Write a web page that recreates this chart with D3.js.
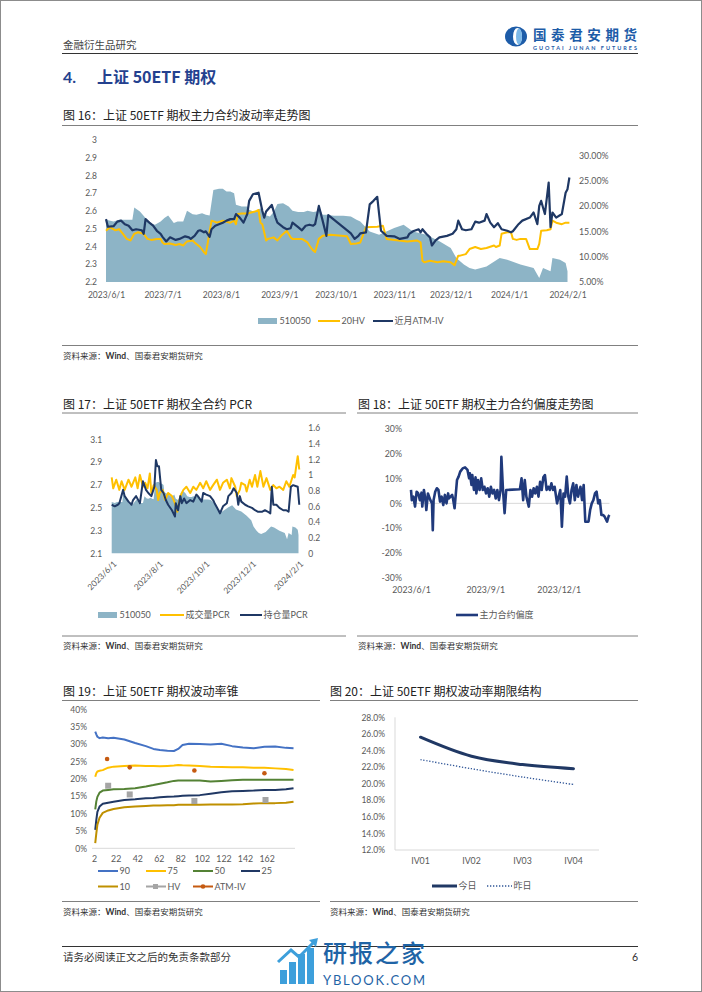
<!DOCTYPE html>
<html><head><meta charset="utf-8">
<script src="https://cdn.jsdelivr.net/npm/d3@7"></script>
<style>body{margin:0;background:#fff}svg{display:block}</style>
</head><body>
<svg id="page" width="702" height="992"></svg>
<script>
// ---------------- DATA ----------------
// 510050 close (left axis, charts 16 & 17)
const etf510050 = [["2023-06-01",2.551],["2023-06-05",2.541],["2023-06-08",2.551],["2023-06-12",2.551],["2023-06-15",2.551],["2023-06-16",2.620],["2023-06-19",2.597],["2023-06-22",2.560],["2023-06-24",2.532],["2023-06-27",2.522],["2023-06-30",2.541],["2023-07-02",2.560],["2023-07-04",2.575],["2023-07-07",2.532],["2023-07-09",2.541],["2023-07-12",2.541],["2023-07-14",2.601],["2023-07-17",2.582],["2023-07-19",2.579],["2023-07-22",2.588],["2023-07-24",2.579],["2023-07-26",2.575],["2023-07-28",2.719],["2023-07-31",2.725],["2023-08-02",2.725],["2023-08-04",2.710],["2023-08-06",2.710],["2023-08-08",2.700],["2023-08-09",2.635],["2023-08-12",2.625],["2023-08-15",2.625],["2023-08-16",2.607],["2023-08-19",2.594],["2023-08-22",2.616],["2023-08-24",2.579],["2023-08-27",2.569],["2023-08-29",2.594],["2023-08-31",2.639],["2023-09-03",2.644],["2023-09-06",2.625],["2023-09-08",2.601],["2023-09-11",2.594],["2023-09-14",2.594],["2023-09-16",2.601],["2023-09-19",2.594],["2023-09-23",2.601],["2023-09-24",2.579],["2023-09-26",2.579],["2023-09-30",2.573],["2023-10-05",2.573],["2023-10-09",2.569],["2023-10-12",2.551],["2023-10-14",2.541],["2023-10-19",2.485],["2023-10-24",2.466],["2023-11-01",2.504],["2023-11-06",2.522],["2023-11-11",2.485],["2023-11-18",2.466],["2023-11-25",2.429],["2023-12-01",2.391],["2023-12-04",2.335],["2023-12-08",2.298],["2023-12-11",2.279],["2023-12-14",2.270],["2023-12-20",2.288],["2023-12-27",2.335],["2023-12-31",2.326],["2024-01-07",2.298],["2024-01-14",2.279],["2024-01-17",2.223],["2024-01-19",2.279],["2024-01-23",2.260],["2024-01-24",2.335],["2024-01-28",2.326],["2024-01-31",2.307],["2024-02-01",2.260]];
// 20HV (%), right axis chart 16
const hv20 = [["2023-06-01",15.1],["2023-06-03",15.8],["2023-06-06",15.2],["2023-06-08",15.4],["2023-06-10",14.5],["2023-06-12",13.5],["2023-06-14",13.2],["2023-06-16",14.5],["2023-06-18",14.8],["2023-06-21",14.5],["2023-06-23",13.5],["2023-06-25",13.3],["2023-06-28",13.5],["2023-06-30",13.5],["2023-07-01",12.8],["2023-07-02",12.5],["2023-07-05",12.6],["2023-07-08",12.3],["2023-07-10",12.5],["2023-07-12",12.2],["2023-07-14",13.0],["2023-07-17",13.2],["2023-07-18",12.8],["2023-07-21",11.9],["2023-07-23",10.9],["2023-07-24",10.5],["2023-07-27",17.1],["2023-07-30",16.7],["2023-08-02",17.1],["2023-08-06",16.7],["2023-08-08",17.1],["2023-08-09",16.4],["2023-08-10",18.4],["2023-08-12",18.5],["2023-08-15",18.5],["2023-08-17",18.7],["2023-08-20",19.0],["2023-08-21",19.2],["2023-08-22",16.7],["2023-08-23",16.4],["2023-08-25",13.2],["2023-08-26",13.5],["2023-08-29",13.8],["2023-08-31",13.2],["2023-09-02",14.1],["2023-09-05",15.1],["2023-09-07",13.8],["2023-09-08",13.5],["2023-09-13",13.5],["2023-09-16",12.8],["2023-09-17",12.2],["2023-09-19",11.2],["2023-09-20",10.9],["2023-09-22",13.5],["2023-09-24",14.1],["2023-09-28",14.3],["2023-10-07",14.0],["2023-10-09",12.5],["2023-10-12",12.6],["2023-10-14",12.8],["2023-10-17",15.8],["2023-10-23",15.9],["2023-10-26",16.1],["2023-10-28",13.5],["2023-11-01",13.3],["2023-11-08",13.0],["2023-11-13",13.2],["2023-11-15",12.8],["2023-11-16",9.2],["2023-11-17",8.9],["2023-11-20",9.2],["2023-11-24",8.9],["2023-11-27",9.1],["2023-12-01",8.9],["2023-12-03",8.3],["2023-12-05",10.2],["2023-12-06",10.2],["2023-12-09",10.5],["2023-12-11",11.5],["2023-12-14",11.9],["2023-12-17",11.5],["2023-12-20",11.7],["2023-12-24",12.2],["2023-12-25",11.9],["2023-12-27",12.2],["2023-12-28",14.5],["2023-12-31",14.8],["2024-01-02",14.8],["2024-01-03",13.5],["2024-01-05",13.3],["2024-01-07",13.5],["2024-01-10",13.5],["2024-01-12",11.5],["2024-01-16",11.5],["2024-01-17",12.5],["2024-01-18",15.1],["2024-01-21",15.2],["2024-01-23",15.4],["2024-01-24",17.1],["2024-01-26",16.7],["2024-01-29",16.4],["2024-01-31",16.7],["2024-02-02",16.7]];
// near-month ATM IV (%), right axis chart 16
const atmIV = [["2023-06-01",17.4],["2023-06-02",15.9],["2023-06-05",16.0],["2023-06-07",16.9],["2023-06-09",17.1],["2023-06-11",16.4],["2023-06-13",16.1],["2023-06-15",15.2],["2023-06-17",15.4],["2023-06-20",15.2],["2023-06-21",14.5],["2023-06-22",17.4],["2023-06-24",16.7],["2023-06-26",16.1],["2023-06-28",15.1],["2023-06-30",14.5],["2023-07-01",13.9],["2023-07-03",13.0],["2023-07-05",13.8],["2023-07-08",13.3],["2023-07-10",13.5],["2023-07-13",14.0],["2023-07-15",13.8],["2023-07-16",13.5],["2023-07-18",14.1],["2023-07-20",15.1],["2023-07-21",15.2],["2023-07-23",14.8],["2023-07-24",15.0],["2023-07-26",13.9],["2023-07-27",15.4],["2023-07-29",16.1],["2023-07-31",16.4],["2023-08-02",16.7],["2023-08-04",17.1],["2023-08-06",17.4],["2023-08-08",17.4],["2023-08-09",18.4],["2023-08-11",17.7],["2023-08-13",16.7],["2023-08-15",18.4],["2023-08-16",21.0],["2023-08-18",22.3],["2023-08-21",22.6],["2023-08-23",19.0],["2023-08-24",17.7],["2023-08-25",18.9],["2023-08-28",20.2],["2023-08-30",17.7],["2023-08-31",16.7],["2023-09-03",15.8],["2023-09-05",15.4],["2023-09-07",15.6],["2023-09-08",16.7],["2023-09-11",15.8],["2023-09-13",15.2],["2023-09-15",16.1],["2023-09-17",16.3],["2023-09-19",16.1],["2023-09-20",16.4],["2023-09-22",20.0],["2023-09-24",17.1],["2023-09-26",14.1],["2023-09-27",18.2],["2023-09-28",17.9],["2023-10-09",14.6],["2023-10-11",13.5],["2023-10-13",14.1],["2023-10-14",14.6],["2023-10-17",14.8],["2023-10-19",20.3],["2023-10-21",21.0],["2023-10-23",21.8],["2023-10-24",18.4],["2023-10-25",15.1],["2023-10-28",14.1],["2023-11-01",14.0],["2023-11-04",13.5],["2023-11-08",13.8],["2023-11-09",14.5],["2023-11-11",15.0],["2023-11-14",15.4],["2023-11-15",14.8],["2023-11-16",15.4],["2023-11-18",14.5],["2023-11-20",13.8],["2023-11-21",12.2],["2023-11-23",13.2],["2023-11-25",13.8],["2023-11-29",14.1],["2023-12-02",14.5],["2023-12-04",15.4],["2023-12-05",17.1],["2023-12-07",15.4],["2023-12-09",15.2],["2023-12-12",15.4],["2023-12-14",16.9],["2023-12-16",16.7],["2023-12-19",17.1],["2023-12-20",18.4],["2023-12-22",16.7],["2023-12-24",15.8],["2023-12-26",16.6],["2023-12-28",15.4],["2023-12-31",15.1],["2024-01-02",14.8],["2024-01-03",15.0],["2024-01-06",16.4],["2024-01-08",17.1],["2024-01-12",17.7],["2024-01-14",18.7],["2024-01-16",16.4],["2024-01-17",20.0],["2024-01-18",21.0],["2024-01-19",19.7],["2024-01-20",18.4],["2024-01-22",24.6],["2024-01-23",15.8],["2024-01-24",18.7],["2024-01-26",17.7],["2024-01-29",18.4],["2024-01-31",22.6],["2024-02-01",23.3],["2024-02-02",25.6]];
// chart 17: volume PCR & open-interest PCR (right axis)
const volPCR = [["2023-06-01",0.97],["2023-06-03",0.83],["2023-06-07",0.94],["2023-06-11",0.81],["2023-06-14",0.92],["2023-06-18",0.81],["2023-06-23",0.94],["2023-06-27",0.85],["2023-07-02",0.97],["2023-07-05",0.83],["2023-07-08",1.00],["2023-07-12",0.85],["2023-07-15",0.90],["2023-07-18",0.83],["2023-07-21",1.02],["2023-07-23",0.77],["2023-07-26",0.87],["2023-07-30",0.81],["2023-08-01",0.68],["2023-08-03",0.77],["2023-08-07",0.81],["2023-08-10",0.68],["2023-08-14",0.77],["2023-08-19",0.73],["2023-08-23",0.64],["2023-08-26",0.53],["2023-08-30",0.73],["2023-09-03",0.81],["2023-09-07",0.85],["2023-09-12",0.77],["2023-09-16",0.85],["2023-09-20",0.81],["2023-09-25",0.90],["2023-09-29",0.83],["2023-10-03",0.92],["2023-10-08",0.81],["2023-10-12",0.87],["2023-10-17",0.94],["2023-10-21",0.81],["2023-10-25",0.90],["2023-10-30",0.94],["2023-11-03",0.83],["2023-11-05",0.96],["2023-11-10",0.85],["2023-11-12",0.73],["2023-11-16",0.81],["2023-11-18",0.90],["2023-11-23",0.87],["2023-11-25",0.79],["2023-11-29",0.94],["2023-12-02",0.85],["2023-12-06",1.00],["2023-12-09",0.85],["2023-12-13",1.05],["2023-12-17",0.85],["2023-12-21",0.96],["2023-12-26",0.81],["2023-12-30",0.87],["2024-01-03",0.83],["2024-01-07",0.85],["2024-01-12",0.81],["2024-01-16",0.92],["2024-01-20",0.85],["2024-01-25",1.00],["2024-01-27",0.97],["2024-01-29",1.11],["2024-01-31",1.24],["2024-02-02",1.07]];
const oiPCR = [["2023-06-01",0.62],["2023-06-05",0.60],["2023-06-09",0.62],["2023-06-11",0.64],["2023-06-16",0.81],["2023-06-18",0.73],["2023-06-23",0.66],["2023-06-27",0.62],["2023-06-29",0.68],["2023-07-03",0.73],["2023-07-08",0.64],["2023-07-12",0.92],["2023-07-16",0.81],["2023-07-19",0.77],["2023-07-23",0.73],["2023-07-27",0.85],["2023-07-29",1.19],["2023-07-31",1.11],["2023-08-02",1.11],["2023-08-05",0.81],["2023-08-08",0.77],["2023-08-11",0.68],["2023-08-14",0.62],["2023-08-19",0.55],["2023-08-23",0.47],["2023-08-24",0.64],["2023-08-27",0.55],["2023-08-30",0.73],["2023-09-01",0.64],["2023-09-04",0.70],["2023-09-07",0.64],["2023-09-12",0.68],["2023-09-16",0.66],["2023-09-20",0.75],["2023-09-22",0.73],["2023-09-27",0.66],["2023-09-29",0.77],["2023-10-03",0.75],["2023-10-08",0.73],["2023-10-12",0.68],["2023-10-14",0.64],["2023-10-19",0.55],["2023-10-21",0.51],["2023-10-25",0.60],["2023-10-30",0.64],["2023-11-01",0.73],["2023-11-05",0.77],["2023-11-08",0.83],["2023-11-12",0.77],["2023-11-14",0.62],["2023-11-16",0.73],["2023-11-18",0.66],["2023-11-23",0.62],["2023-11-27",0.60],["2023-12-02",0.58],["2023-12-06",0.55],["2023-12-10",0.53],["2023-12-15",0.53],["2023-12-19",0.55],["2023-12-23",0.53],["2023-12-26",0.51],["2023-12-28",0.85],["2023-12-30",0.62],["2024-01-03",0.62],["2024-01-07",0.58],["2024-01-12",0.55],["2024-01-16",0.55],["2024-01-19",0.53],["2024-01-22",0.85],["2024-01-25",0.87],["2024-01-28",0.86],["2024-01-31",0.85],["2024-02-02",0.62]];
// chart 18: main-contract skew (%)
const skew = [["2023-06-01",5.4],["2023-06-02",1.3],["2023-06-04",2.7],["2023-06-06",-1.3],["2023-06-08",4.7],["2023-06-10",4.0],["2023-06-12",1.3],["2023-06-14",4.3],["2023-06-15",-1.3],["2023-06-17",5.4],["2023-06-19",1.3],["2023-06-20",-2.7],["2023-06-22",4.0],["2023-06-25",1.3],["2023-06-27",0.0],["2023-06-28",-10.8],["2023-06-29",1.3],["2023-07-01",4.7],["2023-07-03",6.1],["2023-07-05",5.4],["2023-07-07",0.7],["2023-07-09",2.7],["2023-07-11",-0.7],["2023-07-13",3.4],["2023-07-15",0.0],["2023-07-17",4.0],["2023-07-18",2.0],["2023-07-20",2.7],["2023-07-22",3.4],["2023-07-23",2.0],["2023-07-25",-2.0],["2023-07-28",9.4],["2023-07-30",10.8],["2023-08-01",12.8],["2023-08-04",14.1],["2023-08-07",14.5],["2023-08-10",13.5],["2023-08-12",10.1],["2023-08-13",12.1],["2023-08-15",7.4],["2023-08-16",11.4],["2023-08-18",5.4],["2023-08-20",10.5],["2023-08-21",4.0],["2023-08-23",9.4],["2023-08-25",5.4],["2023-08-27",10.1],["2023-08-29",5.4],["2023-08-31",6.7],["2023-09-02",4.0],["2023-09-04",6.1],["2023-09-06",2.7],["2023-09-08",6.7],["2023-09-10",4.0],["2023-09-12",5.4],["2023-09-14",2.0],["2023-09-16",5.4],["2023-09-18",1.3],["2023-09-20",5.4],["2023-09-21",18.8],["2023-09-23",5.4],["2023-09-25",-4.0],["2023-09-27",5.4],["2023-10-14",5.7],["2023-10-16",10.1],["2023-10-18",1.3],["2023-10-20",9.4],["2023-10-22",2.7],["2023-10-25",-1.3],["2023-10-27",5.4],["2023-10-29",2.7],["2023-10-31",6.1],["2023-11-02",4.0],["2023-11-04",6.7],["2023-11-06",2.7],["2023-11-08",8.7],["2023-11-10",5.4],["2023-11-12",10.5],["2023-11-14",11.4],["2023-11-16",5.4],["2023-11-18",6.7],["2023-11-20",5.4],["2023-11-22",8.1],["2023-11-24",5.4],["2023-11-26",6.7],["2023-11-29",0.0],["2023-12-01",2.7],["2023-12-03",5.4],["2023-12-05",-9.4],["2023-12-07",4.0],["2023-12-09",2.7],["2023-12-11",10.8],["2023-12-13",2.7],["2023-12-15",0.0],["2023-12-17",5.4],["2023-12-19",8.1],["2023-12-21",1.3],["2023-12-23",7.4],["2023-12-25",2.7],["2023-12-28",6.7],["2023-12-30",1.3],["2024-01-01",7.4],["2024-01-03",-7.4],["2024-01-06",-7.4],["2024-01-07",-7.4],["2024-01-09",-2.7],["2024-01-11",0.0],["2024-01-13",1.3],["2024-01-15",4.0],["2024-01-17",4.7],["2024-01-19",0.0],["2024-01-21",1.3],["2024-01-23",-4.7],["2024-01-25",-4.7],["2024-01-27",-5.4],["2024-01-30",-7.4],["2024-02-01",-5.1],["2024-02-02",-4.7]];
// chart 19: volatility cone (%)
const coneDays = [3,4,5,7,10,15,20,30,40,50,57,63,70,76,80,84,90,100,110,120,130,140,150,160,170,180,187];
const cone90 = [33.6,32.8,32.1,31.7,31.9,31.7,31.8,31.3,30.3,29.4,28.6,28.3,28.1,28.0,28.6,29.7,30.1,30.0,29.9,30.1,29.4,29.0,28.8,29.2,29.3,28.9,28.8];
const cone75 = [20.6,21.6,22.1,22.3,22.5,23.2,23.5,23.7,23.8,23.7,23.7,23.6,23.7,23.8,24.0,23.9,23.8,23.7,23.5,23.4,23.3,23.3,23.2,23.2,23.0,22.8,22.5];
const cone50 = [11.2,13.5,14.8,16.0,16.6,16.8,17.0,17.1,17.3,17.8,18.2,18.6,19.0,19.4,19.5,19.5,19.5,19.5,19.2,19.4,19.6,19.7,19.7,19.7,19.7,19.7,19.7];
const cone25 = [5.3,8.2,10.5,12.0,12.8,13.1,13.4,13.9,14.1,14.4,14.5,14.7,14.8,14.9,15.0,15.1,15.2,15.3,15.7,16.1,16.4,16.5,16.6,16.8,16.8,17.0,17.3];
const cone10 = [1.5,4.3,6.8,8.8,10.2,10.9,11.3,11.8,12.0,12.2,12.3,12.3,12.4,12.4,12.5,12.5,12.5,12.5,12.6,12.6,12.6,12.7,12.9,13.0,13.0,13.1,13.4];
const hvDays = [15,35,95,161];
const hvVals = [18.0,15.5,13.6,13.9];
const atmDays = [14,35,95,160];
const atmVals = [25.7,23.3,22.4,21.6];
// chart 20: term structure (%)
const terms = ["IV01","IV02","IV03","IV04"];
const todayIV = [25.6,23.3,22.3,21.8];
const yesterdayIV = [22.9,21.8,20.8,19.9];
// tick labels
const ticks16L = [2.2,2.3,2.4,2.5,2.6,2.7,2.8,2.9,3];
const ticks16R = [5,10,15,20,25,30];
const ticks16X = ["2023-06-01","2023-07-01","2023-08-01","2023-09-01","2023-10-01","2023-11-01","2023-12-01","2024-01-01","2024-02-01"];
const ticks17L = [2.1,2.3,2.5,2.7,2.9,3.1];
const ticks17R = [0,0.2,0.4,0.6,0.8,1,1.2,1.4,1.6];
const ticks17X = ["2023-06-01","2023-08-01","2023-10-01","2023-12-01","2024-02-01"];
const ticks18Y = [-30,-20,-10,0,10,20,30];
const ticks18X = ["2023-06-01","2023-09-01","2023-12-01"];
const ticks19X = [2,22,42,62,82,102,122,142,162];
const ticks19Y = [0,5,10,15,20,25,30,35,40];
const ticks20Y = [12,14,16,18,20,22,24,26,28];

// ---------------- DRAWING ----------------
const svg = d3.select("#page");
const NUM = "Lato, 'Noto Sans CJK SC', sans-serif";
const CJK = "'Noto Sans CJK SC', 'Noto Sans', sans-serif";
const AX = "#595959";
const AREA = "#8DB4C6", NAVY = "#1F3864", YEL = "#FFC000";
const parse = d3.timeParse("%Y-%m-%d");
const dfmt = d3.timeFormat("%Y/%-m/%-d");

svg.append("rect").attr("x",0.5).attr("y",0.5).attr("width",701).attr("height",991).attr("fill","#fff").attr("stroke","#8c8c8c");

function txt(x,y,s,o={}){
  return svg.append("text").attr("x",x).attr("y",y).text(s)
    .attr("font-family",o.ff||CJK).attr("font-size",o.fs||10).attr("fill",o.fill||"#333")
    .attr("text-anchor",o.anchor||"start").attr("font-weight",o.fw||400);
}
function hline(x1,x2,y,stroke,w){
  svg.append("line").attr("x1",x1).attr("x2",x2).attr("y1",y).attr("y2",y).attr("stroke",stroke).attr("stroke-width",w);
}
function axisText(g,fs){
  g.select(".domain").remove(); g.selectAll(".tick line").remove();
  g.selectAll("text").attr("font-family",NUM).attr("font-size",fs).attr("fill",AX);
}
function legLine(x1,x2,y,color,w,label,dash){
  const l=svg.append("line").attr("x1",x1).attr("x2",x2).attr("y1",y).attr("y2",y).attr("stroke",color).attr("stroke-width",w);
  if(dash) l.attr("stroke-dasharray",dash);
  txt(x2+1.5,y+3.2,label,{ff:NUM,fs:9,fill:AX});
}
function legArea(x,y,label){
  svg.append("rect").attr("x",x).attr("y",y-3).attr("width",19).attr("height",6).attr("fill",AREA);
  txt(x+21.5,y+3.2,label,{ff:NUM,fs:9,fill:AX});
}
function source(x,y){
  const t=svg.append("text").attr("x",x).attr("y",y).attr("font-family",CJK).attr("font-size",8.5).attr("fill","#333");
  t.append("tspan").text("资料来源：");
  t.append("tspan").text("Wind").attr("font-weight",700).attr("font-family",NUM);
  t.append("tspan").text("、国泰君安期货研究");
}

// header
txt(63,49,"金融衍生品研究",{fs:10.5,fill:"#444"});
{
  const cx=516, cy=36.5;
  svg.append("ellipse").attr("cx",cx).attr("cy",cy).attr("rx",11).attr("ry",10).attr("fill","#1D5CA8");
  svg.append("ellipse").attr("cx",cx+1.5).attr("cy",cy).attr("rx",4.5).attr("ry",8.5).attr("fill","#fff");
  svg.append("ellipse").attr("cx",cx+3).attr("cy",cy).attr("rx",3).attr("ry",8).attr("fill","#7DB9E8");
}
txt(533,40,"国泰君安期货",{fs:13.5,fill:"#1D5CA8",fw:700}).attr("textLength",104);
txt(533,50,"GUOTAI JUNAN FUTURES",{ff:NUM,fs:5.5,fill:"#1D5CA8",fw:700}).attr("textLength",104);
hline(62,638,53.5,"#333",1.2);

// section title
txt(63,83,"4.",{ff:NUM,fs:16,fw:700,fill:"#24418F"});
txt(97,83,"上证 50ETF 期权",{fs:16,fw:700,fill:"#24418F"});

// ===== Figure 16 =====
txt(63,120,"图 16：上证 50ETF 期权主力合约波动率走势图",{fs:12,fill:"#222"});
hline(62,638,125.5,"#808080",1);
{
  const x=d3.scaleTime().domain([parse("2023-06-01"),parse("2024-02-01")]).range([106,567.5]);
  const yL=d3.scaleLinear().domain([2.2,3.0]).range([282,140]);
  const yR=d3.scaleLinear().domain([5,33]).range([282,140]);
  svg.append("path").datum(etf510050).attr("fill",AREA)
    .attr("d",d3.area().x(d=>x(parse(d[0]))).y0(yL(2.2)).y1(d=>yL(d[1])));
  svg.append("path").datum(hv20).attr("fill","none").attr("stroke",YEL).attr("stroke-width",2).attr("stroke-linejoin","round")
    .attr("d",d3.line().x(d=>x(parse(d[0]))).y(d=>yR(d[1])));
  svg.append("path").datum(atmIV).attr("fill","none").attr("stroke",NAVY).attr("stroke-width",2.2).attr("stroke-linejoin","round")
    .attr("d",d3.line().x(d=>x(parse(d[0]))).y(d=>yR(d[1])));
  svg.append("g").attr("transform","translate(106,0)")
    .call(d3.axisLeft(yL).tickValues(ticks16L).tickSize(0).tickPadding(9).tickFormat(d=>String(d))).call(g=>axisText(g,8.5));
  svg.append("g").attr("transform","translate(568,0)")
    .call(d3.axisRight(yR).tickValues(ticks16R).tickSize(0).tickPadding(11).tickFormat(d=>d.toFixed(2)+"%")).call(g=>axisText(g,8.8));
  svg.append("g").attr("transform","translate(0,282)")
    .call(d3.axisBottom(x).tickValues(ticks16X.map(parse)).tickSize(0).tickPadding(10).tickFormat(dfmt)).call(g=>axisText(g,8.5));
  legArea(258,321,"510050");
  legLine(318,340,321,YEL,2,"20HV");
  legLine(373,393,321,NAVY,2,"近月ATM-IV");
}
hline(62,638,345.5,"#808080",1);
source(63,359);

// ===== Figure 17 =====
txt(63,409,"图 17：上证 50ETF 期权全合约 PCR",{fs:12,fill:"#222"});
hline(62,346,413,"#808080",1);
{
  const x=d3.scaleTime().domain([parse("2023-06-01"),parse("2024-02-01")]).range([111.7,298.5]);
  const yL=d3.scaleLinear().domain([2.1,3.2]).range([553.3,428]);
  const yR=d3.scaleLinear().domain([0,1.6]).range([553.3,428]);
  svg.append("path").datum(etf510050).attr("fill",AREA)
    .attr("d",d3.area().x(d=>x(parse(d[0]))).y0(yL(2.1)).y1(d=>yL(d[1])));
  svg.append("path").datum(volPCR).attr("fill","none").attr("stroke",YEL).attr("stroke-width",2).attr("stroke-linejoin","round")
    .attr("d",d3.line().x(d=>x(parse(d[0]))).y(d=>yR(d[1])));
  svg.append("path").datum(oiPCR).attr("fill","none").attr("stroke",NAVY).attr("stroke-width",2).attr("stroke-linejoin","round")
    .attr("d",d3.line().x(d=>x(parse(d[0]))).y(d=>yR(d[1])));
  svg.append("g").attr("transform","translate(111.7,0)")
    .call(d3.axisLeft(yL).tickValues(ticks17L).tickSize(0).tickPadding(9.5).tickFormat(d=>d.toFixed(1))).call(g=>axisText(g,8.5));
  svg.append("g").attr("transform","translate(299.3,0)")
    .call(d3.axisRight(yR).tickValues(ticks17R).tickSize(0).tickPadding(9).tickFormat(d=>String(d))).call(g=>axisText(g,8.5));
  const gx=svg.append("g").attr("transform","translate(0,553.3)")
    .call(d3.axisBottom(x).tickValues(ticks17X.map(parse)).tickSize(0).tickPadding(0).tickFormat(dfmt)).call(g=>axisText(g,8.5));
  gx.selectAll("text").attr("y",0).attr("dy","0.35em").attr("transform","translate(3,9) rotate(-45)").attr("text-anchor","end");
  legArea(98,615,"510050");
  legLine(160,184,615,YEL,2,"成交量PCR");
  legLine(240,262,615,NAVY,2,"持仓量PCR");
}

// ===== Figure 18 =====
txt(358,409,"图 18：上证 50ETF 期权主力合约偏度走势图",{fs:12,fill:"#222"});
hline(357,638,413,"#808080",1);
{
  const x=d3.scaleTime().domain([parse("2023-06-01"),parse("2024-02-02")]).range([411,609.5]);
  const y=d3.scaleLinear().domain([-30,30]).range([577.7,429]);
  svg.append("line").attr("x1",411).attr("x2",609.5).attr("y1",y(0)).attr("y2",y(0)).attr("stroke","#D9D9D9").attr("stroke-width",1);
  svg.append("path").datum(skew).attr("fill","none").attr("stroke","#203A7C").attr("stroke-width",2.6).attr("stroke-linejoin","round")
    .attr("d",d3.line().x(d=>x(parse(d[0]))).y(d=>y(d[1])));
  svg.append("g").attr("transform","translate(411,0)")
    .call(d3.axisLeft(y).tickValues(ticks18Y).tickSize(0).tickPadding(9).tickFormat(d=>d+"%")).call(g=>axisText(g,8.8));
  svg.append("g").attr("transform","translate(0,577.7)")
    .call(d3.axisBottom(x).tickValues(ticks18X.map(parse)).tickSize(0).tickPadding(9).tickFormat(dfmt)).call(g=>axisText(g,8.8));
  legLine(456,478,615,"#203A7C",2.6,"主力合约偏度");
}
hline(62,346,636,"#808080",1);
hline(357,638,636,"#808080",1);
source(63,649);
source(358,649);

// ===== Figure 19 =====
txt(63,696,"图 19：上证 50ETF 期权波动率锥",{fs:12,fill:"#222"});
hline(62,320,700.5,"#808080",1);
{
  const x=d3.scaleLinear().domain([0,188]).range([92,294.6]);
  const y=d3.scaleLinear().domain([0,40]).range([848.3,709.3]);
  svg.append("line").attr("x1",92).attr("x2",295).attr("y1",848.3).attr("y2",848.3).attr("stroke","#D9D9D9");
  const series=[[cone90,"#4472C4"],[cone75,"#FFC000"],[cone50,"#548235"],[cone25,"#203864"],[cone10,"#BF9000"]];
  series.forEach(([vals,c])=>{
    svg.append("path").datum(vals).attr("fill","none").attr("stroke",c).attr("stroke-width",2).attr("stroke-linejoin","round")
      .attr("d",d3.line().x((d,i)=>x(coneDays[i])).y(d=>y(d)));
  });
  svg.selectAll(".hv").data(hvVals).enter().append("rect")
    .attr("x",(d,i)=>x(hvDays[i])-3).attr("y",d=>y(d)-3).attr("width",6).attr("height",6).attr("fill","#A5A5A5");
  svg.selectAll(".atm").data(atmVals).enter().append("circle")
    .attr("cx",(d,i)=>x(atmDays[i])).attr("cy",d=>y(d)).attr("r",2.3).attr("fill","#C55A11");
  svg.append("g").attr("transform","translate(92,0)")
    .call(d3.axisLeft(y).tickValues(ticks19Y).tickSize(0).tickPadding(5).tickFormat(d=>d+"%")).call(g=>axisText(g,8.5));
  svg.append("g").attr("transform","translate(0,848.3)")
    .call(d3.axisBottom(x).tickValues(ticks19X).tickSize(0).tickPadding(7.5)).call(g=>axisText(g,8.8));
  legLine(98,118,871,"#4472C4",2,"90");
  legLine(146,166,871,"#FFC000",2,"75");
  legLine(193,213,871,"#548235",2,"50");
  legLine(241,260,871,"#203864",2,"25");
  legLine(98,118,886.5,"#BF9000",2,"10");
  legLine(146,166,886.5,"#A5A5A5",2,"HV");
  svg.append("rect").attr("x",153).attr("y",884).attr("width",5).attr("height",5).attr("fill","#A5A5A5");
  legLine(193,213,886.5,"#C55A11",2,"ATM-IV");
  svg.append("circle").attr("cx",203).attr("cy",886.5).attr("r",2.3).attr("fill","#C55A11");
}

// ===== Figure 20 =====
txt(330,696,"图 20：上证 50ETF 期权波动率期限结构",{fs:12,fill:"#222"});
hline(330,638,700.5,"#808080",1);
{
  const x=d3.scaleBand().domain(terms).range([395,599]);
  const cx=d=>x(d)+x.bandwidth()/2;
  const y=d3.scaleLinear().domain([12,28]).range([850,717.3]);
  svg.append("line").attr("x1",395).attr("x2",395).attr("y1",717.3).attr("y2",850).attr("stroke","#D9D9D9");
  svg.append("line").attr("x1",395).attr("x2",599).attr("y1",850).attr("y2",850).attr("stroke","#D9D9D9");
  svg.append("path").datum(yesterdayIV).attr("fill","none").attr("stroke","#2F5597").attr("stroke-width",1.3).attr("stroke-dasharray","1.3,1.7")
    .attr("d",d3.line().curve(d3.curveCatmullRom).x((d,i)=>cx(terms[i])).y(d=>y(d)));
  svg.append("path").datum(todayIV).attr("fill","none").attr("stroke","#203864").attr("stroke-width",3).attr("stroke-linecap","round")
    .attr("d",d3.line().curve(d3.curveCatmullRom).x((d,i)=>cx(terms[i])).y(d=>y(d)));
  svg.append("g").attr("transform","translate(395,0)")
    .call(d3.axisLeft(y).tickValues(ticks20Y).tickSize(0).tickPadding(10).tickFormat(d=>d.toFixed(1)+"%")).call(g=>axisText(g,8.5));
  svg.append("g").attr("transform","translate(0,850)")
    .call(d3.axisBottom(x).tickSize(0).tickPadding(8)).call(g=>axisText(g,8.8));
  legLine(432,457,886,"#203864",3,"今日");
  legLine(487,512,886,"#2F5597",1.3,"昨日","1.3,1.7");
}
hline(62,320,901.5,"#808080",1);
hline(330,638,901.5,"#808080",1);
source(63,915);
source(330,915);

// footer
hline(62,638,946.5,"#333",1.2);
txt(63,961,"请务必阅读正文之后的免责条款部分",{fs:10.5,fill:"#333"});
txt(638,961,"6",{ff:NUM,fs:10.5,fill:"#333",anchor:"end"});
// site watermark
{
  const bars=[[280,970,14],[289,962,22],[298,954,30],[307,948,36]];
  bars.forEach(([bx,by,h])=>svg.append("rect").attr("x",bx).attr("y",by).attr("width",7).attr("height",h).attr("fill","#3D9FDB"));
  svg.append("polyline").attr("points","278,962 291,950 299,957 314,942").attr("fill","none").attr("stroke","#3D9FDB").attr("stroke-width",3);
  svg.append("polygon").attr("points","318,938 309,940 316,947").attr("fill","#3D9FDB");
  txt(323,962,"研报之家",{fs:24,fill:"#1F64A6",fw:500}).attr("textLength",102);
  txt(323,985,"YBLOOK.COM",{ff:NUM,fs:13,fill:"#1F64A6"}).attr("textLength",102);
}
</script>
</body></html>
